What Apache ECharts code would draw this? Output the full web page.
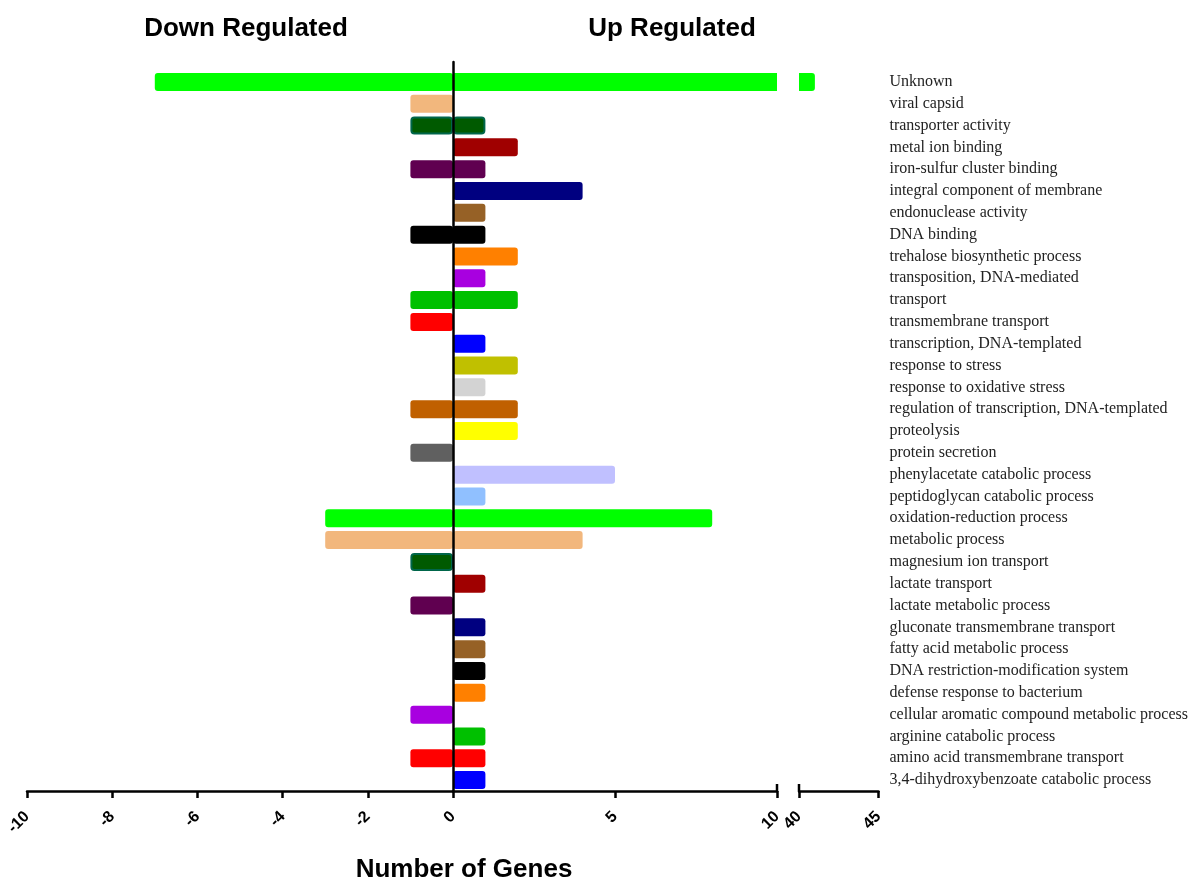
<!DOCTYPE html>
<html>
<head>
<meta charset="utf-8">
<script src="https://cdn.jsdelivr.net/npm/echarts@6/dist/echarts.min.js"></script>
<style>
html, body { margin: 0; padding: 0; background: #fff; }
#main { width: 1191px; height: 882px; }
</style>
</head>
<body>
<div id="main"></div>
<script>
// GO terms, top to bottom
var categories = [
    'Unknown', 'viral capsid', 'transporter activity', 'metal ion binding',
    'iron-sulfur cluster binding', 'integral component of membrane', 'endonuclease activity',
    'DNA binding', 'trehalose biosynthetic process', 'transposition, DNA-mediated',
    'transport', 'transmembrane transport', 'transcription, DNA-templated',
    'response to stress', 'response to oxidative stress',
    'regulation of transcription, DNA-templated', 'proteolysis', 'protein secretion',
    'phenylacetate catabolic process', 'peptidoglycan catabolic process',
    'oxidation-reduction process', 'metabolic process', 'magnesium ion transport',
    'lactate transport', 'lactate metabolic process', 'gluconate transmembrane transport',
    'fatty acid metabolic process', 'DNA restriction-modification system',
    'defense response to bacterium', 'cellular aromatic compound metabolic process',
    'arginine catabolic process', 'amino acid transmembrane transport',
    '3,4-dihydroxybenzoate catabolic process'
];
var downGenes = [-7, -1, -1, 0, -1, 0, 0, -1, 0, 0, -1, -1, 0, 0, 0, -1, 0, -1, 0, 0, -3, -3, -1, 0, -1, 0, 0, 0, 0, -1, 0, -1, 0];
var upGenes = [41, 0, 1, 2, 1, 4, 1, 1, 2, 1, 2, 0, 1, 2, 1, 2, 2, 0, 5, 1, 8, 4, 0, 1, 0, 1, 1, 1, 1, 0, 1, 1, 1];

// broken x axis: three segments
var downRange = [-10, 0];
var upRange = [0, 10];
var breakRange = [40, 45];

// colours repeat every 20 terms
var palette = [
    '#00ff00', '#f2b77d', '#005a00', '#a00000', '#600050',
    '#000080', '#966126', '#000000', '#ff8000', '#a800e0',
    '#00c000', '#ff0000', '#0000ff', '#c0c000', '#d3d3d3',
    '#c06000', '#ffff00', '#606060', '#c0c0ff', '#90c0ff'
];

var chart = echarts.init(document.getElementById('main'));

var gridTop = 71;
var gridHeight = 720;
var barW = 18;
var labelFont = 'Liberation Sans, Arial, sans-serif';

function colorOf(p) {
    return palette[p.dataIndex % palette.length];
}

// build bar items, skipping zeros
function barData(values, keep, extraStyle) {
    return values.map(function (v, i) {
        if (!keep(v)) return '-';
        var style = {};
        if (i % palette.length === 2) {
            style.borderColor = '#00664a';
            style.borderWidth = 2;
        }
        if (extraStyle) {
            var s = extraStyle(v);
            for (var k in s) style[k] = s[k];
        }
        return { value: v, itemStyle: style };
    });
}

function valueAxis(gridIndex, range, interval, extra) {
    var ax = {
        type: 'value',
        gridIndex: gridIndex,
        min: range[0],
        max: range[1],
        interval: interval,
        z: 5,
        splitLine: { show: false },
        axisLine: { show: true, onZero: false, lineStyle: { color: '#000', width: 2.5 } },
        axisTick: { show: true, length: 7, lineStyle: { color: '#000', width: 2.5 } },
        axisLabel: {
            rotate: 45,
            margin: 23,
            color: '#000',
            fontFamily: labelFont,
            fontWeight: 'bold',
            fontSize: 16
        }
    };
    if (extra) {
        for (var k in extra) ax.axisLabel[k] = extra[k];
    }
    return ax;
}

function catAxis(gridIndex, showLabels) {
    return {
        type: 'category',
        gridIndex: gridIndex,
        data: categories,
        inverse: true,
        position: 'right',
        axisLine: { show: false },
        axisTick: { show: false },
        axisLabel: {
            show: showLabels,
            margin: 11,
            color: '#222',
            fontFamily: 'Liberation Serif, Times New Roman, serif',
            fontSize: 16
        }
    };
}

var titleStyle = { fontFamily: labelFont, fontWeight: 'bold', fontSize: 26, color: '#000' };

var option = {
    animation: false,
    backgroundColor: '#fff',
    title: [
        { text: 'Down Regulated', left: 241, top: 11, textAlign: 'center', textStyle: titleStyle },
        { text: 'Up Regulated', left: 667, top: 11, textAlign: 'center', textStyle: titleStyle },
        { text: 'Number of Genes', left: 459, top: 852, textAlign: 'center', textStyle: titleStyle }
    ],
    grid: [
        { left: 27, width: 426, top: gridTop, height: gridHeight },
        { left: 453, width: 324, top: gridTop, height: gridHeight },
        { left: 799, width: 80, top: gridTop, height: gridHeight },
        // only carries the zero line, a bit taller than the bars
        { left: 453, width: 1, top: 62, height: gridTop + gridHeight - 62 }
    ],
    xAxis: [
        valueAxis(0, downRange, 2),
        valueAxis(1, upRange, 5, { showMinLabel: false }),
        valueAxis(2, breakRange, 5),
        { type: 'value', gridIndex: 3, show: false }
    ],
    yAxis: [
        catAxis(0, false),
        catAxis(1, false),
        catAxis(2, true),
        {
            type: 'value', gridIndex: 3, position: 'left', z: 10,
            axisLine: { show: true, onZero: false, lineStyle: { color: '#000', width: 2.5 } },
            axisTick: { show: false },
            axisLabel: { show: false },
            splitLine: { show: false }
        }
    ],
    series: [
        {
            name: 'Down', type: 'bar', xAxisIndex: 0, yAxisIndex: 0,
            barWidth: barW, clip: true,
            data: barData(downGenes, function (v) { return v < 0; }),
            itemStyle: { color: colorOf, borderRadius: 3 }
        },
        {
            name: 'Up', type: 'bar', xAxisIndex: 1, yAxisIndex: 1,
            barWidth: barW, clip: true,
            data: barData(upGenes, function (v) { return v > 0; }, function (v) {
                return v > upRange[1] ? { borderRadius: 0 } : {};
            }),
            itemStyle: { color: colorOf, borderRadius: 3 }
        },
        {
            name: 'Up (break)', type: 'bar', xAxisIndex: 2, yAxisIndex: 2,
            barWidth: barW, clip: true,
            data: barData(upGenes, function (v) { return v > breakRange[0]; }),
            itemStyle: { color: colorOf, borderRadius: [0, 3, 3, 0] }
        }
    ]
};

chart.setOption(option);

// upward ticks marking the axis break
var axisY = gridTop + gridHeight;
var x10 = chart.convertToPixel({ xAxisIndex: 1 }, upRange[1]);
var x40 = chart.convertToPixel({ xAxisIndex: 2 }, breakRange[0]);
chart.setOption({
    graphic: [x10, x40].map(function (x) {
        return {
            type: 'line',
            z: 10,
            shape: { x1: x, y1: axisY - 7, x2: x, y2: axisY },
            style: { stroke: '#000', lineWidth: 2.5 }
        };
    })
});

window.addEventListener('resize', function () {
    chart.resize();
});
</script>
</body>
</html>
